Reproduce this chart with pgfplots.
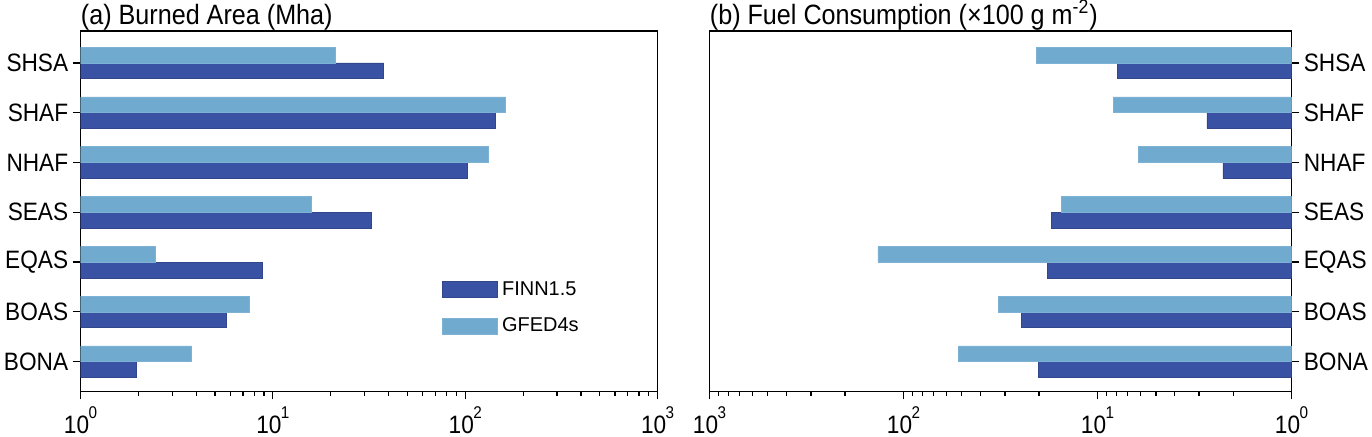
\documentclass[border=0pt]{standalone}
\usepackage{pgfplots}
\pgfplotsset{compat=1.18}
\usepackage{fontspec}
\setmainfont{Liberation Sans}[FakeStretch=0.9]
\newfontfamily\legendfont{Liberation Sans}

\definecolor{finn}{HTML}{3A52A3}
\definecolor{gfed}{HTML}{70AACF}

\newcommand{\pow}[1]{10\kern-0.3pt\raisebox{7.6pt}{\fontsize{8.5}{9}\selectfont #1}}

% y positions: 0 BONA ... 6 SHSA
\pgfplotstableread{
y  finn   gfed
0  1.94   3.78
1  5.71   7.53
2  8.79   2.45
3  32.5   15.85
4  102.8  132
5  143.9  161.7
6  37.7   21.0
}\burned
\pgfplotstableread{
y  finn   gfed
0  20.2   52.2
1  24.6   32.5
2  18.2   135.5
3  17.3   15.3
4  2.26   6.16
5  2.73   8.30
6  7.89   20.7
}\fuel

\begin{document}
\begin{tikzpicture}
\begin{axis}[
    scale only axis,
    width=289pt, height=180.5pt,
    xmode=log,
    xmin=1, xmax=1000,
    ymin=-0.6, ymax=6.64,
    ytick={0,1,2,3,4,5,6},
    yticklabels={BONA,BOAS,EQAS,SEAS,NHAF,SHAF,SHSA},
    xtick={1,10,100,1000},
    xticklabels={\pow{0},\pow{1},\pow{2},\pow{3}},
    tick align=outside,
    xtick pos=bottom,
    ytick pos=left,
    major tick length=4pt,
    minor tick length=2.2pt,
    axis line style={line width=0.8pt},
    tick style={black, line width=0.6pt},
    tick label style={font=\fontsize{12.6}{14}\selectfont},
    xticklabel style={inner sep=1pt, yshift=-2.5pt},
    yticklabel style={inner sep=2pt},
    title style={at={(0,1)}, anchor=base west, yshift=-2.5pt, inner sep=0pt, font=\fontsize{14}{16}\selectfont},
    title={(a) Burned Area (Mha)},
    xbar, bar width=7.9pt,
    legend style={draw=none, fill=none, at={(0.625,0.318)}, anchor=north west,
                  inner sep=0pt, row sep=6pt, font=\legendfont\fontsize{10}{12}\selectfont},
    legend image code/.code={\draw[#1] (0pt,-4pt) rectangle (28pt,4pt);},
    legend cell align=left,
  ]
  \addplot[fill=finn, draw=finn!85!black, line width=0.3pt, bar shift=-3.95pt] table[x=finn, y=y] {\burned};
  \addplot[fill=gfed, draw=gfed!90!white, line width=0.3pt, bar shift=3.95pt] table[x=gfed, y=y] {\burned};
  \legend{FINN1.5, GFED4s}
\end{axis}
\begin{axis}[
    at={(315pt,0)},
    scale only axis,
    width=291.5pt, height=180.5pt,
    xmode=log,
    x dir=reverse,
    xmin=1, xmax=1000,
    ymin=-0.6, ymax=6.64,
    ytick={0,1,2,3,4,5,6},
    yticklabels={BONA,BOAS,EQAS,SEAS,NHAF,SHAF,SHSA},
    xtick={1,10,100,1000},
    xticklabels={\pow{0},\pow{1},\pow{2},\pow{3}},
    tick align=outside,
    xtick pos=bottom,
    ytick pos=right,
    yticklabel pos=right,
    major tick length=4pt,
    minor tick length=2.2pt,
    axis line style={line width=0.8pt},
    tick style={black, line width=0.6pt},
    tick label style={font=\fontsize{12.6}{14}\selectfont},
    xticklabel style={inner sep=1pt, yshift=-2.5pt},
    yticklabel style={inner sep=2pt},
    title style={at={(0,1)}, anchor=base west, yshift=-2.5pt, inner sep=0pt, font=\fontsize{14}{16}\selectfont},
    title={(b) Fuel Consumption (×100 g m\textsuperscript{-2})},
    xbar, bar width=7.9pt,
  ]
  \addplot[fill=finn, draw=finn!85!black, line width=0.3pt, bar shift=-3.95pt] table[x=finn, y=y] {\fuel};
  \addplot[fill=gfed, draw=gfed!90!white, line width=0.3pt, bar shift=3.95pt] table[x=gfed, y=y] {\fuel};
\end{axis}
\end{tikzpicture}
\end{document}
